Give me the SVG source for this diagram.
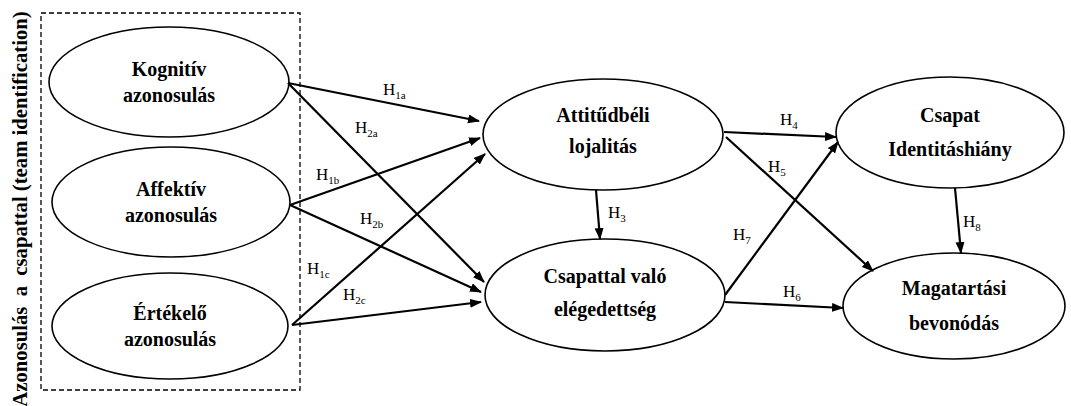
<svg xmlns="http://www.w3.org/2000/svg" width="1071" height="406" viewBox="0 0 1071 406">
<style>
.node ellipse{fill:#fff;stroke:#000;stroke-width:1.6}
.node text{font-family:'Liberation Serif','Times New Roman',serif;font-weight:bold;font-size:20px;text-anchor:middle;fill:#000}
.vt{font-family:'Liberation Serif','Times New Roman',serif;font-weight:bold;font-size:20.7px;text-anchor:middle;fill:#000}
.conn line{stroke:#000;stroke-width:2.2;marker-end:url(#arr)}
.lbl{font-family:'Liberation Serif','Times New Roman',serif;font-size:17px;fill:#000}
.lbl tspan{font-size:11px}
</style>
<defs>
<marker id="arr" markerUnits="userSpaceOnUse" markerWidth="12" markerHeight="10" refX="11" refY="4.5" orient="auto">
<path d="M0,0 L12,4.5 L0,9 z" fill="#000"/>
</marker>
</defs>
<rect width="1071" height="406" fill="#fff"/>
<g id="group-box">
<rect x="41" y="13" width="259" height="377" fill="none" stroke="#000" stroke-width="1.3" stroke-dasharray="5,3"/>
<text class="vt" transform="translate(27,209) rotate(-90)" xml:space="preserve">Azonosulás  a  csapattal (team identification)</text>
</g>
<g id="kognitiv" class="node">
<ellipse cx="169" cy="82" rx="120" ry="55"/>
<text x="169" y="76">Kognitív</text>
<text x="169" y="102">azonosulás</text>
</g>
<g id="affektiv" class="node">
<ellipse cx="171" cy="202" rx="119" ry="55"/>
<text x="171" y="196">Affektív</text>
<text x="171" y="222">azonosulás</text>
</g>
<g id="ertekelo" class="node">
<ellipse cx="170" cy="326" rx="118" ry="53"/>
<text x="170" y="320">Értékelő</text>
<text x="170" y="346">azonosulás</text>
</g>
<g id="attitudbeli" class="node">
<ellipse cx="603" cy="134.5" rx="120" ry="55.5"/>
<text x="603" y="122">Attitűdbéli</text>
<text x="603" y="153">lojalitás</text>
</g>
<g id="csapattal" class="node">
<ellipse cx="605" cy="295" rx="120" ry="56"/>
<text x="605" y="283">Csapattal való</text>
<text x="605" y="316">elégedettség</text>
</g>
<g id="csapat-identitas" class="node">
<ellipse cx="950" cy="132.5" rx="114" ry="55.5"/>
<text x="950" y="122">Csapat</text>
<text x="950" y="156">Identitáshiány</text>
</g>
<g id="magatartasi" class="node">
<ellipse cx="954" cy="306" rx="111" ry="53"/>
<text x="954" y="295">Magatartási</text>
<text x="954" y="330">bevonódás</text>
</g>
<g id="connectors" class="conn">
<line x1="288" y1="83" x2="479" y2="121"/>
<line x1="288" y1="83" x2="484" y2="282"/>
<line x1="290" y1="205" x2="480" y2="138"/>
<line x1="290" y1="205" x2="481" y2="292"/>
<line x1="292" y1="325" x2="485" y2="154"/>
<line x1="292" y1="325" x2="481" y2="302"/>
<line x1="596" y1="190" x2="600" y2="239"/>
<line x1="724" y1="132" x2="836" y2="137"/>
<line x1="726" y1="137" x2="873" y2="271"/>
<line x1="725" y1="295" x2="838" y2="142"/>
<line x1="725" y1="302" x2="843" y2="308"/>
<line x1="955" y1="188" x2="961" y2="253"/>
</g>
<g id="labels">
<text class="lbl" x="383" y="95">H<tspan dy="4">1a</tspan></text>
<text class="lbl" x="355" y="133">H<tspan dy="4">2a</tspan></text>
<text class="lbl" x="316" y="180">H<tspan dy="4">1b</tspan></text>
<text class="lbl" x="360" y="224">H<tspan dy="4">2b</tspan></text>
<text class="lbl" x="307" y="274">H<tspan dy="4">1c</tspan></text>
<text class="lbl" x="343" y="300">H<tspan dy="4">2c</tspan></text>
<text class="lbl" x="608" y="218">H<tspan dy="4">3</tspan></text>
<text class="lbl" x="780" y="125">H<tspan dy="4">4</tspan></text>
<text class="lbl" x="768" y="172">H<tspan dy="4">5</tspan></text>
<text class="lbl" x="783" y="297">H<tspan dy="4">6</tspan></text>
<text class="lbl" x="733" y="240">H<tspan dy="4">7</tspan></text>
<text class="lbl" x="963" y="227">H<tspan dy="4">8</tspan></text>
</g>
</svg>
